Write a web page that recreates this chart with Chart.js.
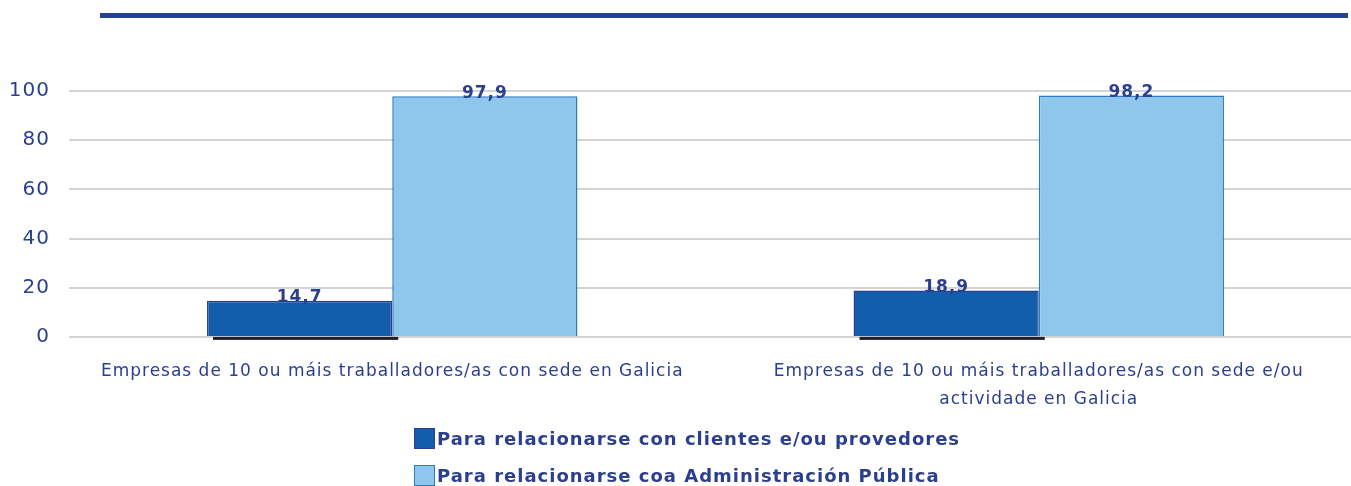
<!DOCTYPE html>
<html>
<head>
<meta charset="utf-8">
<script src="https://cdn.jsdelivr.net/npm/chart.js@4.4.0/dist/chart.umd.min.js"></script>
<style>
	html, body { margin: 0; padding: 0; background: #fff; overflow: hidden; }
	#wrap { position: relative; width: 1351px; height: 486px; overflow: hidden; }
	#topline { position: absolute; left: 100px; top: 13px; width: 1248px; height: 5px; background: #26418f; }
	#chart-box { position: absolute; left: 0; top: 0; width: 1362px; height: 427px; }
	#legend { position: absolute; left: 414px; top: 420px; font-family: "DejaVu Sans", sans-serif; font-weight: bold; font-size: 18px; letter-spacing: 1px; color: #2b3f8f; }
	.item { display: flex; align-items: center; height: 37px; }
	.swatch { width: 21px; height: 21px; box-sizing: border-box; margin-right: 2px; }
</style>
</head>
<body>
<div id="wrap">
	<div id="topline"></div>
	<div id="chart-box"><canvas id="bar-chart"></canvas></div>
	<div id="legend"></div>
</div>
<script>
const categories = [
	'Empresas de 10 ou máis traballadores/as con sede en Galicia',
	['Empresas de 10 ou máis traballadores/as con sede e/ou', 'actividade en Galicia']
];
const seriesNames = [
	'Para relacionarse con clientes e/ou provedores',
	'Para relacionarse coa Administración Pública'
];
const clientesValues = [14.7, 18.9];
const adminValues = [97.9, 98.2];
const yTicks = [0, 20, 40, 60, 80, 100];

const textColor = '#2b3f8f';
const fillColors = ['#125dac', '#8fc7ec'];
const borderColors = ['#2a3f8f', '#2b7bc3'];

window.onload = () => {
	createChart();
	buildLegend();
};

// wider letter spacing like the original (canvas resets it on resize)
const spacing = {
	id: 'spacing',
	beforeUpdate(chart) { chart.ctx.letterSpacing = '1px'; },
	beforeDraw(chart) { chart.ctx.letterSpacing = '1px'; }
};

// shadow under dark bars + value labels
const barExtras = {
	id: 'barExtras',
	beforeDatasetsDraw(chart) {
		const ctx = chart.ctx;
		const meta = chart.getDatasetMeta(0);
		ctx.save();
		ctx.fillStyle = '#1f1f2e';
		meta.data.forEach(bar => {
			ctx.fillRect(bar.x - bar.width / 2 + 6, bar.base + 1, bar.width, 3);
		});
		ctx.restore();
	},
	afterDatasetsDraw(chart) {
		const ctx = chart.ctx;
		ctx.save();
		ctx.font = 'bold 17px "DejaVu Sans", sans-serif';
		ctx.fillStyle = textColor;
		ctx.textAlign = 'center';
		ctx.textBaseline = 'middle';
		chart.data.datasets.forEach((ds, i) => {
			chart.getDatasetMeta(i).data.forEach((bar, j) => {
				ctx.fillText(ds.data[j].toFixed(1).replace('.', ','), bar.x, bar.y - 3);
			});
		});
		ctx.restore();
	}
};

function createChart() {
	const ctx = document.getElementById('bar-chart').getContext('2d');
	new Chart(ctx, {
		type: 'bar',
		data: {
			labels: categories,
			datasets: [{
				label: seriesNames[0],
				data: clientesValues,
				backgroundColor: fillColors[0],
				borderColor: borderColors[0],
				borderWidth: 1.5
			}, {
				label: seriesNames[1],
				data: adminValues,
				backgroundColor: fillColors[1],
				borderColor: borderColors[1],
				borderWidth: 1.5
			}]
		},
		options: {
			responsive: true,
			maintainAspectRatio: false,
			animation: false,
			datasets: {
				bar: { barPercentage: 1, categoryPercentage: 0.573 }
			},
			layout: { padding: { top: 91, left: 0, right: 0, bottom: 0 } },
			scales: {
				y: {
					min: 0,
					max: 100,
					afterBuildTicks: axis => { axis.ticks = yTicks.map(v => ({ value: v })); },
					afterFit: axis => { axis.width = 69; },
					ticks: {
						color: textColor,
						font: { family: '"DejaVu Sans", sans-serif', size: 20 },
						padding: 19
					},
					grid: { color: '#d4d4d4', lineWidth: 2, drawTicks: false },
					border: { display: false }
				},
				x: {
					ticks: {
						color: textColor,
						font: { family: '"DejaVu Sans", sans-serif', size: 17, lineHeight: 1.65 },
						padding: 13,
						maxRotation: 0
					},
					grid: { display: false },
					border: { display: false }
				}
			},
			plugins: {
				legend: { display: false },
				tooltip: { enabled: false }
			}
		},
		plugins: [spacing, barExtras]
	});
}

function buildLegend() {
	const box = document.getElementById('legend');
	seriesNames.forEach((name, i) => {
		const item = document.createElement('div');
		item.className = 'item';
		const sw = document.createElement('span');
		sw.className = 'swatch';
		sw.style.background = fillColors[i];
		sw.style.border = '1.5px solid ' + borderColors[i];
		const txt = document.createElement('span');
		txt.textContent = name;
		item.appendChild(sw);
		item.appendChild(txt);
		box.appendChild(item);
	});
}
</script>
</body>
</html>
